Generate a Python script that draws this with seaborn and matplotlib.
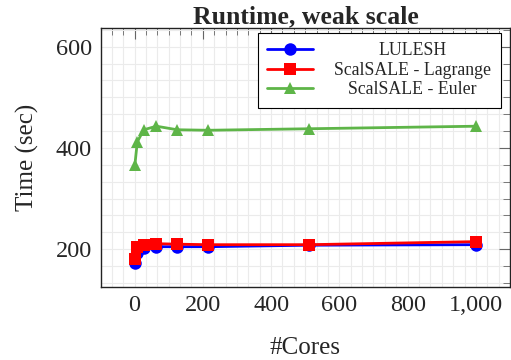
import matplotlib
matplotlib.use("Agg")
import matplotlib.pyplot as plt
import seaborn as sns
import pandas as pd
from matplotlib.ticker import MultipleLocator, FuncFormatter

cores = [1, 8, 27, 64, 125, 216, 512, 1000]
lulesh = [172, 193, 203, 205, 205, 205, 208, 209]
lagrange = [180, 204, 208, 211, 210, 209, 209, 215]
euler = [367, 412, 436, 443, 436, 435, 438, 443]
series_names = ["LULESH", "ScalSALE - Lagrange", "ScalSALE - Euler"]
colors = ["#0000ff", "#ff0000", "#5eb548"]
markers = ["o", "s", "^"]

df = pd.concat([
    pd.DataFrame({"Cores": cores, "Time": vals, "Series": name})
    for name, vals in zip(series_names, [lulesh, lagrange, euler])
])

sns.set_style("white")
plt.rcParams["font.family"] = ["Liberation Serif", "DejaVu Serif"]

fig = plt.figure(figsize=(5.11, 3.6), dpi=100)
ax = fig.add_axes([100.8 / 511, 1 - 286.7 / 360, (510 - 100.8) / 511, (286.7 - 28) / 360])

sns.lineplot(data=df, x="Cores", y="Time", hue="Series", style="Series",
             palette=colors, markers=markers, dashes=False, ax=ax,
             linewidth=2, markersize=9, markeredgewidth=0, legend=True)

ax.set_xlim(-98.9, 1099.9)
ax.set_ylim(126, 637)
ax.xaxis.set_major_locator(MultipleLocator(200))
ax.xaxis.set_minor_locator(MultipleLocator(200 / 6))
ax.yaxis.set_major_locator(MultipleLocator(200))
ax.yaxis.set_minor_locator(MultipleLocator(200 / 6))
ax.xaxis.set_major_formatter(FuncFormatter(lambda v, p: f"{int(round(v)):,}"))

ax.grid(True, which="both", color="#ebebeb", linewidth=0.8)
ax.set_axisbelow(True)
for s in ax.spines.values():
    s.set_color("#222222")
    s.set_linewidth(1.0)
ax.tick_params(which="both", direction="in", top=True, right=True, color="#666666")
ax.tick_params(which="major", length=8, width=0.8, labelsize=17.5)
ax.tick_params(which="minor", length=5, width=0.6)
ax.tick_params(axis="x", which="major", pad=6)
ax.tick_params(axis="y", which="major", pad=6.5)

ax.set_title("Runtime, weak scale", fontsize=18.5, fontweight="bold", pad=3.5)
ax.set_xlabel("#Cores", fontsize=18, labelpad=15)
ax.set_ylabel("Time (sec)", fontsize=18, labelpad=12)

handles, labels = ax.get_legend_handles_labels()
leg = ax.legend(handles, labels, loc="upper right", fontsize=12.75,
                frameon=True, fancybox=False, edgecolor="black",
                framealpha=1, borderpad=0.55, labelspacing=0.14,
                handlelength=2.55, handletextpad=1.2, borderaxespad=0,
                bbox_to_anchor=(0.977, 0.982))
leg.get_frame().set_linewidth(0.8)

# center legend labels within their column (as in the reference)
fig.canvas.draw()
texts = leg.get_texts()
widths = [t.get_window_extent().width for t in texts]
maxw = max(widths)
for t, w in zip(texts, widths):
    t.set_position(((maxw - w) / 2, 0))

fig.savefig("out.png", dpi=100)
